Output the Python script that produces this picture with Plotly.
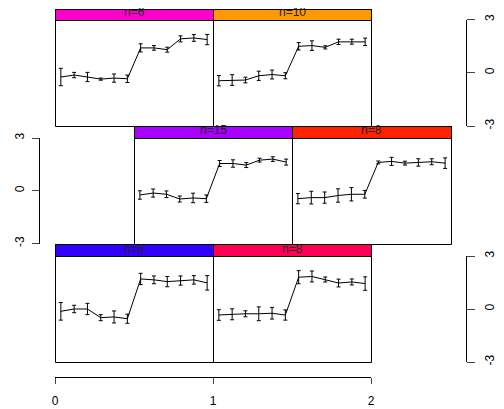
import plotly.graph_objects as go

# page body has an 8px margin, so the figure is offset by 8px on the page
OFF = 8
W, H = 504 - OFF, 409 - OFF

# ---------------- data ----------------
x_idx = list(range(1, 13))
strip_labels = ["n=6", "n=10", "n=15", "n=8", "n=6", "n=8"]
strip_colors = ["#FF00CC", "#FF9900", "#AA00FF", "#FF2200", "#3300FF", "#FF0055"]

p1_mean = [-0.24, -0.13, -0.24, -0.36, -0.30, -0.34, 1.40, 1.40, 1.30, 1.91, 1.96, 1.87]
p1_err = [0.49, 0.15, 0.26, 0.06, 0.23, 0.21, 0.23, 0.13, 0.14, 0.17, 0.19, 0.29]

p2_mean = [-0.45, -0.41, -0.41, -0.17, -0.10, -0.17, 1.49, 1.53, 1.43, 1.74, 1.75, 1.74]
p2_err = [0.29, 0.30, 0.16, 0.26, 0.25, 0.17, 0.21, 0.27, 0.09, 0.15, 0.14, 0.21]

p3_mean = [-0.24, -0.13, -0.20, -0.47, -0.41, -0.45, 1.55, 1.55, 1.46, 1.74, 1.80, 1.63]
p3_err = [0.24, 0.23, 0.19, 0.17, 0.27, 0.21, 0.17, 0.21, 0.14, 0.11, 0.13, 0.17]

p4_mean = [-0.45, -0.39, -0.39, -0.27, -0.20, -0.20, 1.61, 1.67, 1.57, 1.61, 1.65, 1.57]
p4_err = [0.29, 0.36, 0.32, 0.38, 0.38, 0.22, 0.08, 0.23, 0.11, 0.21, 0.17, 0.30]

p5_mean = [-0.13, 0.00, 0.00, -0.49, -0.45, -0.55, 1.70, 1.65, 1.55, 1.61, 1.65, 1.48]
p5_err = [0.50, 0.21, 0.32, 0.17, 0.34, 0.26, 0.32, 0.22, 0.29, 0.26, 0.24, 0.41]

p6_mean = [-0.34, -0.30, -0.27, -0.27, -0.24, -0.34, 1.80, 1.84, 1.67, 1.47, 1.53, 1.44]
p6_err = [0.30, 0.31, 0.17, 0.39, 0.33, 0.29, 0.37, 0.31, 0.14, 0.22, 0.17, 0.38]

y_ticks = [-3, 0, 3]
y_tick_text = ["-3", "0", "3"]
x_ticks = [0, 1, 2]
x_tick_text = ["0", "1", "2"]

means = [p1_mean, p2_mean, p3_mean, p4_mean, p5_mean, p6_mean]
errs = [p1_err, p2_err, p3_err, p4_err, p5_err, p6_err]

# ---------------- layout geometry (page pixels) ----------------
# (x0, x1, strip_top, plot_top, plot_bottom)
panels = [
    (55, 213, 9, 19.5, 126),
    (213, 371, 9, 19.5, 126),
    (134, 292, 126, 138, 243.5),
    (292, 451, 126, 138, 243.5),
    (55, 213, 244, 256, 362),
    (213, 371, 244, 256, 362),
]


def px(x):
    return (x - OFF) / W


def py(y):
    return 1 - (y - OFF) / H


FONT = "Liberation Sans, Arial, Helvetica, sans-serif"
fig = go.Figure()
shapes = []
annotations = []
layout = dict(
    template="none",
    width=W, height=H,
    margin=dict(l=0, r=0, t=0, b=0, pad=0, autoexpand=False),
    paper_bgcolor="white", plot_bgcolor="rgba(0,0,0,0)",
    showlegend=False,
    font=dict(family=FONT, size=12, color="black"),
)

for i, (x0, x1, st, pt, pb) in enumerate(panels):
    k = i + 1
    sfx = "" if k == 1 else str(k)
    fig.add_trace(go.Scatter(
        x=x_idx, y=means[i], mode="lines",
        line=dict(color="black", width=1),
        error_y=dict(type="data", array=errs[i], visible=True,
                     color="black", thickness=1, width=2),
        xaxis="x" + sfx, yaxis="y" + sfx, hoverinfo="skip",
    ))
    layout["xaxis" + sfx] = dict(
        domain=[px(x0), px(x1)], range=[0.56, 12.44], anchor="y" + sfx,
        showline=False, showticklabels=False, ticks="", showgrid=False,
        zeroline=False, automargin=False,
    )
    layout["yaxis" + sfx] = dict(
        domain=[py(pb), py(pt)], range=[-3, 3], anchor="x" + sfx,
        showline=False, showticklabels=False, ticks="", showgrid=False,
        zeroline=False, automargin=False,
    )
    # panel border (crisp 1px lines)
    shapes.append(dict(
        type="rect", xref="paper", yref="paper",
        x0=px(x0 + 0.5), x1=px(x1 + 0.5), y0=py(round(pb) + 0.5), y1=py(st + 0.5),
        fillcolor="rgba(0,0,0,0)", line=dict(color="black", width=1), layer="above",
    ))
    # strip
    shapes.append(dict(
        type="rect", xref="paper", yref="paper",
        x0=px(x0 + 0.5), x1=px(x1 + 0.5), y0=py(round(pt) + 0.5), y1=py(st + 0.5),
        fillcolor=strip_colors[i], line=dict(color="black", width=1), layer="above",
    ))
    annotations.append(dict(
        xref="paper", yref="paper", x=px((x0 + x1) / 2), y=py(pt + 1.5),
        xanchor="center", yanchor="bottom", text=strip_labels[i], showarrow=False,
        font=dict(family=FONT, size=12, color="#222222"),
    ))

axis_common = dict(
    range=[-3, 3], tickvals=y_ticks, ticktext=y_tick_text, ticks="outside",
    showline=True, linecolor="black", linewidth=1, tickcolor="#444444",
    showgrid=False, zeroline=False, tickangle=-90, automargin=False,
    tickfont=dict(family=FONT, size=12, color="black"), anchor="free",
)
layout["yaxis7"] = dict(axis_common, overlaying="y", position=px(466), side="right",
                        ticklen=8, ticklabelstandoff=5)
layout["yaxis8"] = dict(axis_common, overlaying="y3", position=px(39), side="left",
                        ticklen=7, ticklabelstandoff=3)
layout["yaxis9"] = dict(axis_common, overlaying="y5", position=px(466), side="right",
                        ticklen=8, ticklabelstandoff=5)
for xa, ya in (("x", "y7"), ("x3", "y8"), ("x5", "y9")):
    fig.add_trace(go.Scatter(x=[None], y=[None], xaxis=xa, yaxis=ya,
                             mode="markers", hoverinfo="skip"))

layout["xaxis7"] = dict(
    domain=[px(55), px(371)], range=[0, 2], anchor="free", position=py(377),
    tickvals=x_ticks, ticktext=x_tick_text, ticks="outside", ticklen=6,
    showline=True, linecolor="black", linewidth=1, tickcolor="#444444",
    showgrid=False, zeroline=False, ticklabelstandoff=7, automargin=False,
    tickfont=dict(family=FONT, size=12, color="black"),
)
layout["yaxis10"] = dict(domain=[0, 0.02], visible=False, range=[0, 1], anchor="x7")
fig.add_trace(go.Scatter(x=[None], y=[None], xaxis="x7", yaxis="y10",
                         mode="markers", hoverinfo="skip"))

layout["shapes"] = shapes
layout["annotations"] = annotations
fig.update_layout(**layout)
fig.write_html("out.html")
